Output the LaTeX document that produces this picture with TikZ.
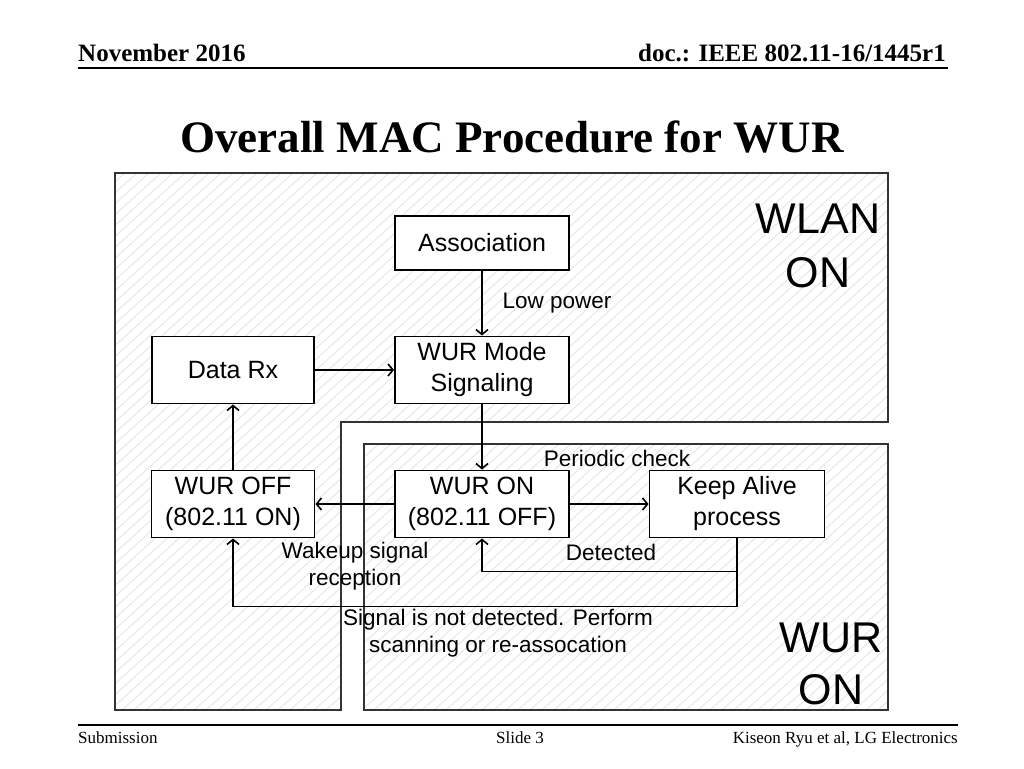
\documentclass[tikz,border=0pt]{standalone}
\usepackage{fontspec}
\setmainfont{Liberation Serif}
\newfontfamily\dsans{Liberation Sans}
\usetikzlibrary{arrows.meta}
\begin{document}
\begin{tikzpicture}[x=1pt,y=-1pt,
  box/.style={draw=black, line width=1.9pt, fill=white, font=\dsans\fontsize{25}{31}\selectfont, align=center, inner sep=0pt},
  flow/.style={line width=1.9pt, -{Straight Barb[length=5pt,width=12pt,line width=1.6pt]}},
  lbl/.style={font=\dsans\fontsize{22.5}{27.5}\selectfont, align=center, inner sep=0pt},
  big/.style={font=\dsans\fontsize{43}{54}\selectfont, align=center, inner sep=0pt, anchor=base},
  region/.style={draw=black!80, line width=1.2pt},
  hatch/.style={draw=black!11, line width=0.8pt},
  rule/.style={line width=1.8pt},
  hdr/.style={font=\bfseries\fontsize{25}{30}\selectfont, inner sep=0pt, anchor=base},
  ftr/.style={font=\fontsize{17}{20}\selectfont, inner sep=0pt, anchor=base}
]
\useasboundingbox (0,0) rectangle (1024,768);
\fill[white] (0,0) rectangle (1024,768);

% header and footer
\node[hdr, anchor=base west] (hleft) at (78,62) {November 2016};
\node[hdr, anchor=base east] (hright) at (946,62) {doc.: IEEE 802.11-16/1445r1};
\coordinate (hl1) at (78,68); \coordinate (hl2) at (948,68);
\draw[rule] (hl1) -- (hl2);
\node[font=\bfseries\fontsize{45}{50}\selectfont, inner sep=0pt, anchor=base] (title) at (512,152) {Overall MAC Procedure for WUR};
\coordinate (fl1) at (78,725); \coordinate (fl2) at (958,725);
\draw[rule] (fl1) -- (fl2);
\node[ftr, anchor=base west] (fsub) at (78,743) {Submission};
\node[ftr] (fslide) at (520,743) {Slide 3};
\node[ftr, anchor=base east] (fauth) at (958,743) {Kiseon Ryu et al, LG Electronics};

% WLAN ON region
\begin{scope}
\clip (115,173) -- (888,173) -- (888,422) -- (341,422) -- (341,710) -- (115,710) -- cycle;
\foreach \i in {-600,-588,...,900} \draw[hatch] (\i,712) -- ++(660,-600);
\end{scope}
\draw[region] (115,173) -- (888,173) -- (888,422) -- (341,422) -- (341,710) -- (115,710) -- cycle;

% WUR ON region
\begin{scope}
\clip (364,444) rectangle (888,710);
\foreach \i in {-600,-588,...,900} \draw[hatch] (\i,712) -- ++(660,-600);
\end{scope}
\draw[region] (364,444) rectangle (888,710);

\node[big] (wlan) at (818,233) {WLAN};
\node[big] (wlanon) at (818,287) {ON};
\node[big] (wur) at (831,652) {WUR};
\node[big] (wuron2) at (831,704) {ON};

% nodes
\node[box, minimum width=174pt, minimum height=54pt] (assoc) at (482,243) {Association};
\node[box, minimum width=174pt, minimum height=67pt] (mode) at (482,370) {WUR Mode\\Signaling};
\node[box, minimum width=162pt, minimum height=67pt] (datarx) at (233,370) {Data Rx};
\node[box, minimum width=163pt, minimum height=67pt] (wuroff) at (233,504) {WUR OFF\\(802.11 ON)};
\node[box, minimum width=174pt, minimum height=67pt] (wuron) at (482,504) {WUR ON\\(802.11 OFF)};
\node[box, minimum width=175pt, minimum height=67pt] (keep) at (737,504) {Keep Alive\\process};

% connectors
\draw[flow] (assoc.south) -- (mode.north);
\draw[flow] (datarx.east) -- (mode.west);
\draw[flow] (mode.south) -- (wuron.north);
\draw[flow] (wuroff.north) -- (datarx.south);
\draw[flow] (wuron.west) -- (wuroff.east);
\draw[flow] (wuron.east) -- (keep.west);
\draw[flow] (keep.south) -- ++(0,33) -| (wuron.south);
\draw[flow] (keep.south) -- ++(0,68) -| (wuroff.south);

% labels
\node[lbl] (lowpower) at (557,303) {Low power};
\node[lbl] (periodic) at (617,458) {Periodic check};
\node[lbl] (detected) at (611,552) {Detected};
\node[lbl] (wakeup) at (355,566) {Wakeup signal\\reception};
\node[lbl] (notdet) at (498,633) {Signal is not detected. Perform\\scanning or re-assocation};
\end{tikzpicture}
\end{document}
